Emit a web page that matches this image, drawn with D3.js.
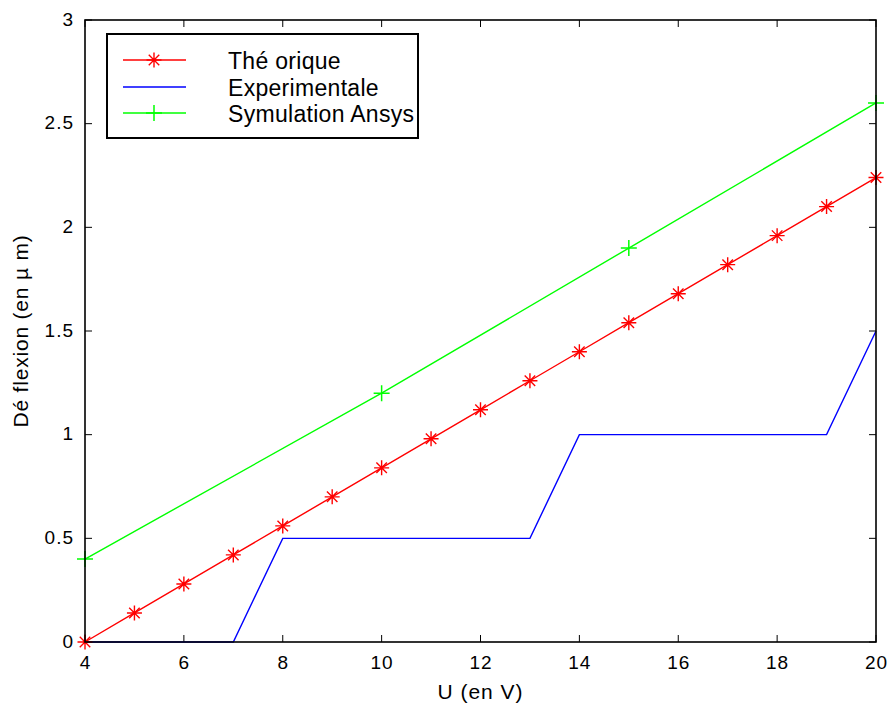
<!DOCTYPE html>
<html><head><meta charset="utf-8">
<script src="https://cdn.jsdelivr.net/npm/d3@7"></script>
<style>body{margin:0;background:#fff}svg{display:block}text{font-family:"Liberation Sans",Arial,sans-serif;fill:#000}</style>
</head><body><svg id="c" width="891" height="708"></svg>
<script>
const theoU = [4,5,6,7,8,9,10,11,12,13,14,15,16,17,18,19,20];
const theoV = [0,0.14,0.28,0.42,0.56,0.70,0.84,0.98,1.12,1.26,1.40,1.54,1.68,1.82,1.96,2.10,2.24];
const expU = [4,7,8,13,14,19,20];
const expV = [0,0,0.5,0.5,1,1,1.5];
const simU = [4,10,15,20];
const simV = [0.4,1.2,1.9,2.6];
const xTicks = [4,6,8,10,12,14,16,18,20];
const yTicks = [0,0.5,1,1.5,2,2.5,3];
const legendLabels = ["Thé orique","Experimentale","Symulation Ansys"];
const colors = ["#ff0000","#0000ff","#00ff00"];

const svg = d3.select("#c");
const L=85,R=876,T=20,B=642;
const x = d3.scaleLinear().domain([4,20]).range([L,R]);
const y = d3.scaleLinear().domain([0,3]).range([B,T]);
const g = svg.append("g");

const tl=7;
xTicks.forEach(t=>{
  g.append("line").attr("x1",x(t)).attr("x2",x(t)).attr("y1",B).attr("y2",B-tl).attr("stroke","#000");
  g.append("line").attr("x1",x(t)).attr("x2",x(t)).attr("y1",T).attr("y2",T+tl).attr("stroke","#000");
  g.append("text").attr("x",x(t)+0.5).attr("y",B+27).attr("text-anchor","middle").attr("font-size",19).attr("letter-spacing",1).text(t);
});
yTicks.forEach(t=>{
  g.append("line").attr("x1",L).attr("x2",L+tl).attr("y1",y(t)).attr("y2",y(t)).attr("stroke","#000");
  g.append("line").attr("x1",R).attr("x2",R-tl).attr("y1",y(t)).attr("y2",y(t)).attr("stroke","#000");
  g.append("text").attr("x",L-11).attr("y",y(t)+5.5).attr("text-anchor","end").attr("font-size",19).attr("letter-spacing",1).text(t);
});

const line = d3.line().x(d=>x(d[0])).y(d=>y(d[1]));
const theo = theoU.map((u,i)=>[u,theoV[i]]);
const exp = expU.map((u,i)=>[u,expV[i]]);
const sim = simU.map((u,i)=>[u,simV[i]]);

function star(sel,cx,cy,c){
  const r=7.5, d=r*0.7;
  const p=`M${cx-r},${cy}L${cx+r},${cy}M${cx},${cy-r}L${cx},${cy+r}M${cx-d},${cy-d}L${cx+d},${cy+d}M${cx-d},${cy+d}L${cx+d},${cy-d}`;
  sel.append("path").attr("d",p).attr("stroke",c).attr("stroke-width",1.4).attr("fill","none");
}
function plus(sel,cx,cy,c){
  const r=8;
  sel.append("path").attr("d",`M${cx-r},${cy}L${cx+r},${cy}M${cx},${cy-r}L${cx},${cy+r}`).attr("stroke",c).attr("stroke-width",1.5).attr("fill","none");
}

g.append("path").attr("d",line(sim)).attr("stroke",colors[2]).attr("stroke-width",1.4).attr("fill","none");
g.append("path").attr("d",line(theo)).attr("stroke",colors[0]).attr("stroke-width",1.4).attr("fill","none");
g.append("path").attr("d",line(exp)).attr("stroke",colors[1]).attr("stroke-width",1.4).attr("fill","none");
theo.forEach(d=>star(g,x(d[0]),y(d[1]),colors[0]));
sim.forEach(d=>plus(g,x(d[0]),y(d[1]),colors[2]));

g.append("rect").attr("x",L).attr("y",T).attr("width",R-L).attr("height",B-T).attr("fill","none").attr("stroke","#000").attr("stroke-width",1.6);

svg.append("text").attr("x",(L+R)/2).attr("y",699).attr("text-anchor","middle").attr("font-size",21).attr("letter-spacing",1).text("U (en V)");
svg.append("text").attr("transform",`translate(28,${(T+B)/2}) rotate(-90)`).attr("text-anchor","middle").attr("font-size",21).attr("letter-spacing",0.8).text("Dé flexion (en µ m)");

const lg = svg.append("g");
lg.append("rect").attr("x",107).attr("y",34).attr("width",311).attr("height",104).attr("fill","#fff").attr("stroke","#000").attr("stroke-width",2);
const ly=[60,87,113];
legendLabels.forEach((lab,i)=>{
  lg.append("line").attr("x1",123).attr("x2",186).attr("y1",ly[i]).attr("y2",ly[i]).attr("stroke",colors[i]).attr("stroke-width",1.5);
  if(i===0) star(lg,154,ly[i],colors[i]);
  if(i===2) plus(lg,154,ly[i],colors[i]);
  lg.append("text").attr("x",228).attr("y",ly[i]+8.5).attr("font-size",23).attr("letter-spacing",0.3).text(lab);
});
</script></body></html>
